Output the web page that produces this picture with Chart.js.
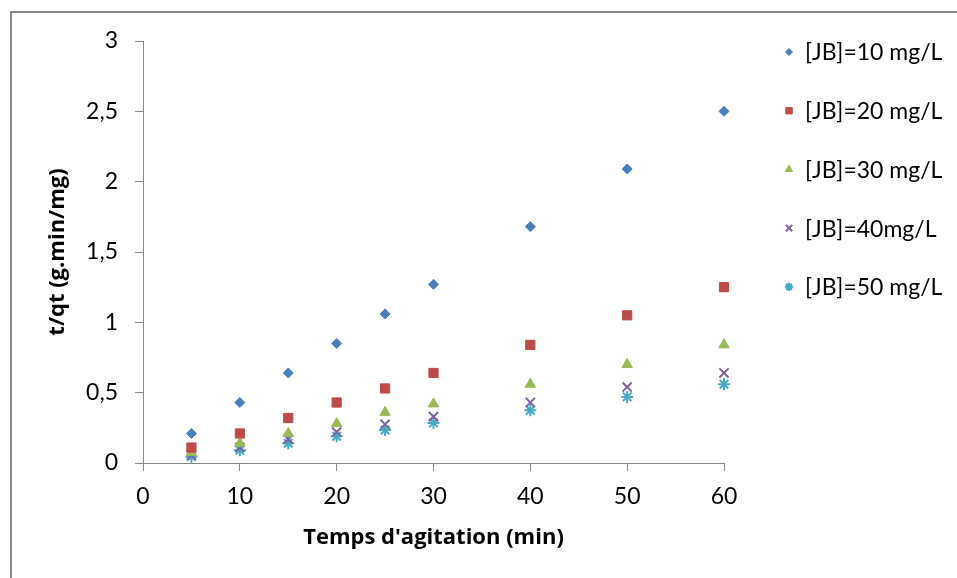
<!DOCTYPE html>
<html>
<head>
<meta charset="utf-8">
<script src="https://cdn.jsdelivr.net/npm/chart.js@4.4.1/dist/chart.umd.min.js"></script>
<style>
  body { margin: 0; background: #fff; }
  #wrap { width: 957px; height: 578px; position: relative; }
</style>
</head>
<body>
<div id="wrap"><canvas id="myChart"></canvas></div>
<script>
// data
const times = [5, 10, 15, 20, 25, 30, 40, 50, 60];
const jb10 = [0.21, 0.43, 0.64, 0.85, 1.06, 1.27, 1.68, 2.09, 2.50];
const jb20 = [0.11, 0.21, 0.32, 0.43, 0.53, 0.64, 0.84, 1.05, 1.25];
const jb30 = [0.075, 0.14, 0.21, 0.28, 0.36, 0.42, 0.56, 0.70, 0.84];
const jb40 = [0.055, 0.11, 0.17, 0.22, 0.275, 0.33, 0.43, 0.54, 0.64];
const jb50 = [0.045, 0.09, 0.14, 0.19, 0.235, 0.285, 0.375, 0.47, 0.56];
const seriesLabels = ["[JB]=10 mg/L", "[JB]=20 mg/L", "[JB]=30 mg/L", "[JB]=40mg/L", "[JB]=50 mg/L"];

const FONT = "Lato, 'Liberation Sans', sans-serif";
const BOLD_FONT = "'Open Sans', Lato, sans-serif";
const GRAY = "#868686";

const toXY = (ys) => ys.map((y, i) => ({ x: times[i], y: y }));

const styles = [
  { color: "#4A7EBB", pointStyle: "rectRot", radius: 5, borderWidth: 1 },
  { color: "#BE4B48", pointStyle: "rect", radius: 6.5, borderWidth: 1 },
  { color: "#98B954", pointStyle: "triangle", radius: 6, borderWidth: 1 },
  { color: "#7D60A0", pointStyle: "crossRot", radius: 6.5, borderWidth: 2 },
  { color: "#46AAC5", pointStyle: "star", radius: 6, borderWidth: 2 },
];

const data = {
  datasets: [jb10, jb20, jb30, jb40, jb50].map((ys, i) => ({
    label: seriesLabels[i],
    data: toXY(ys),
    showLine: false,
    clip: false,
    backgroundColor: styles[i].color,
    borderColor: styles[i].color,
    pointStyle: styles[i].pointStyle,
    pointRadius: styles[i].radius,
    pointHoverRadius: styles[i].radius,
    pointBorderWidth: styles[i].borderWidth,
  })),
};

// outer frame (only left and top edges are visible in the picture)
const frame = {
  id: "frame",
  beforeDraw(chart) {
    const { ctx } = chart;
    ctx.save();
    ctx.strokeStyle = GRAY;
    ctx.lineWidth = 2;
    ctx.strokeRect(11, 12, 2000, 2000);
    ctx.restore();
  },
};

// legend drawn on the right like Excel's
const sideLegend = {
  id: "sideLegend",
  afterDraw(chart) {
    const { ctx } = chart;
    ctx.save();
    ctx.font = "23px " + FONT;
    ctx.textBaseline = "middle";
    ctx.textAlign = "left";
    chart.data.datasets.forEach((ds, i) => {
      const y = 52 + i * 58.7;
      ctx.fillStyle = ds.backgroundColor;
      ctx.strokeStyle = ds.borderColor;
      ctx.lineWidth = ds.pointBorderWidth;
      Chart.helpers.drawPoint(ctx, {
        pointStyle: ds.pointStyle,
        radius: ds.pointRadius * 0.7,
        borderWidth: ds.pointBorderWidth,
        rotation: 0,
      }, 789, y);
      ctx.fillStyle = "#000";
      ctx.fillText(ds.label, 805, y + 1);
    });
    ctx.restore();
  },
};

const config = {
  type: "scatter",
  data,
  options: {
    responsive: true,
    maintainAspectRatio: false,
    animation: false,
    layout: {
      padding: { left: 0, right: 233, top: 41, bottom: 0 },
    },
    scales: {
      x: {
        type: "linear",
        min: 0,
        max: 60,
        afterFit(scale) { scale.height = 115; },
        ticks: {
          stepSize: 10,
          color: "#000",
          padding: 12,
          font: { family: FONT, size: 23 },
        },
        grid: { drawOnChartArea: false, drawTicks: true, tickLength: 8, color: GRAY },
        border: { color: GRAY, width: 1 },
        title: {
          display: true,
          text: "Temps d'agitation (min)",
          color: "#000",
          font: { family: BOLD_FONT, size: 22, weight: "bold" },
          padding: { top: 0, bottom: 27 },
        },
      },
      y: {
        min: 0,
        max: 3,
        afterFit(scale) { scale.width = 143; },
        ticks: {
          stepSize: 0.5,
          color: "#000",
          padding: 17,
          font: { family: FONT, size: 23 },
          callback: (v) => String(v).replace(".", ","),
        },
        grid: { drawOnChartArea: false, drawTicks: true, tickLength: 8, color: GRAY },
        border: { color: GRAY, width: 1 },
        title: {
          display: true,
          text: "t/qt (g.min/mg)",
          color: "#000",
          font: { family: BOLD_FONT, size: 22, weight: "bold" },
          padding: { top: 45, bottom: 0 },
        },
      },
    },
    plugins: {
      legend: { display: false },
      tooltip: { enabled: false },
    },
  },
  plugins: [frame, sideLegend],
};

const myChart = new Chart(document.getElementById("myChart"), config);
</script>
</body>
</html>
